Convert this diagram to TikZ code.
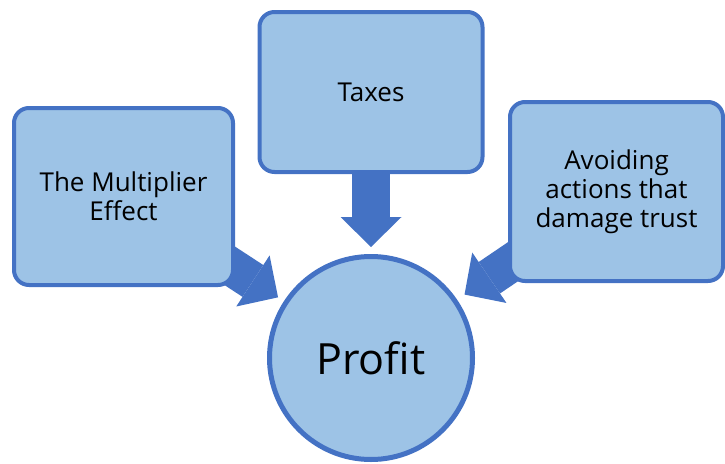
\documentclass[tikz,border=0pt]{standalone}
\usepackage{fontspec}
\setmainfont{Open Sans}
\usetikzlibrary{arrows.meta}
\pgfdeclarelayer{background}
\pgfsetlayers{background,main}

\definecolor{boxfill}{HTML}{9DC3E6}
\definecolor{boxline}{HTML}{4472C4}

\tikzset{
    factor/.style={draw=boxline, fill=boxfill, line width=4pt, rounded corners=15pt,
        align=center, font=\fontsize{26}{29}\selectfont},
    result/.style={circle, draw=boxline, fill=boxfill, line width=5pt,
        minimum size=203pt, inner sep=0pt, font=\fontsize{43}{50}\selectfont},
    bigarrow/.style={boxline, line width=38pt,
        -{Triangle[length=30pt 0 0, width=61pt 0 0, line width=0pt 0 0]}, shorten >=7pt}
}

\begin{document}
\begin{tikzpicture}[x=1pt, y=-1pt]

\useasboundingbox (0, 0) rectangle (725, 463);

% Factors
\node[factor, minimum width=219pt, minimum height=177pt] (mult) at (123.5, 196.5) {The Multiplier\\Effect};
\node[factor, minimum width=223pt, minimum height=160pt] (taxes) at (371, 92) {Taxes};
\node[factor, minimum width=213pt, minimum height=179pt] (trust) at (616.5, 191.5) {Avoiding\\actions that\\damage trust};

% Result
\node[result] (profit) at (371, 358) {Profit};

% Arrows behind the boxes
\begin{pgfonlayer}{background}
    \draw[bigarrow] (mult.center) -- (profit);
    \draw[bigarrow] (taxes.center) -- (profit);
    \draw[bigarrow, shorten >=9pt] (trust.center) -- (profit);
\end{pgfonlayer}

\end{tikzpicture}
\end{document}
